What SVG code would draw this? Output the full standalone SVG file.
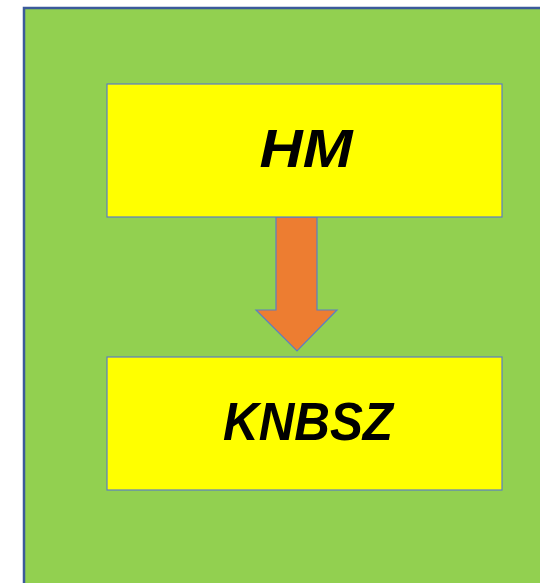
<svg xmlns="http://www.w3.org/2000/svg" width="540" height="583" viewBox="0 0 540 583">
<style>
.box{fill:#FFFF00;stroke:#5B7FC4;stroke-width:1.2}
.lbl{font-family:"Liberation Sans",Arial,sans-serif;font-weight:bold;font-style:italic;font-size:54px;fill:#000;text-anchor:middle}
</style>
<rect width="540" height="583" fill="#FFFFFF"/>
<g id="frame">
<rect x="24" y="8" width="530" height="590" fill="#92D050" stroke="#3B5A9A" stroke-width="2.5"/>
</g>
<g id="connectors">
<path d="M276,217 L317,217 L317,310 L337,310 L297,351 L256,310 L276,310 Z" fill="#ED7D31" stroke="#5B7FC4" stroke-width="1.2"/>
</g>
<g id="node-hm">
<rect class="box" x="107" y="84" width="395" height="133"/>
<text class="lbl" x="306" y="167" textLength="93" lengthAdjust="spacingAndGlyphs">HM</text>
</g>
<g id="node-knbsz">
<rect class="box" x="107" y="357" width="395" height="133"/>
<text class="lbl" x="308" y="440" textLength="170" lengthAdjust="spacingAndGlyphs">KNBSZ</text>
</g>
</svg>
